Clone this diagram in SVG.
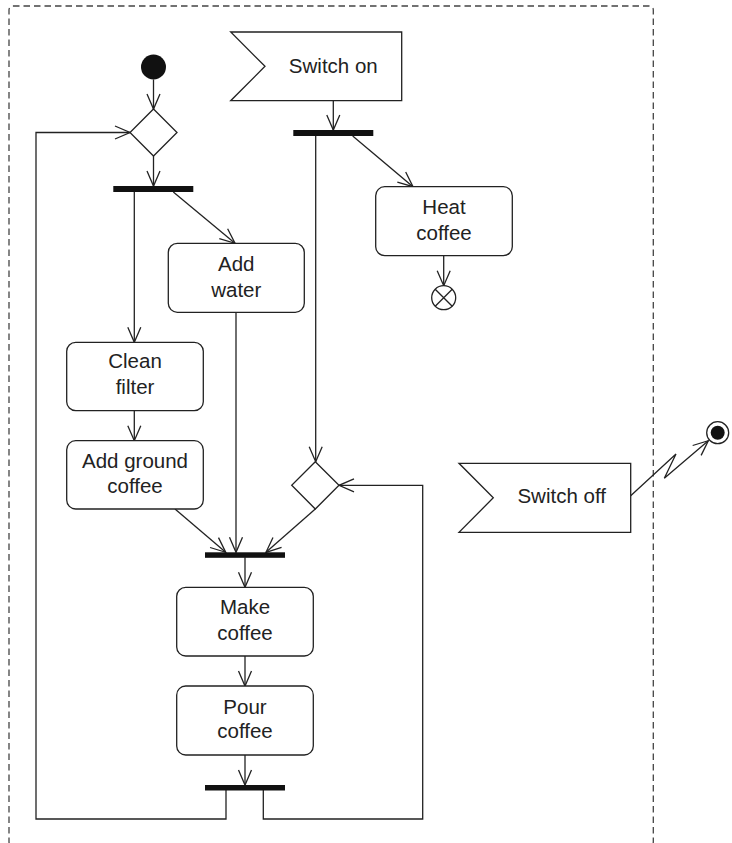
<svg xmlns="http://www.w3.org/2000/svg" width="732" height="843" viewBox="0 0 732 843">
<style>
.ln{fill:none;stroke:#222;stroke-width:1.3}
.box{fill:#fff;stroke:#222;stroke-width:1.3}
.bar{fill:#111;stroke:none}
.t{font-family:"Liberation Sans",Arial,sans-serif;font-size:20.5px;fill:#222;text-anchor:middle}
.frame{fill:none;stroke:#444;stroke-width:1.3;stroke-dasharray:6.5 4}
</style>
<defs>
<marker id="ah" markerUnits="userSpaceOnUse" markerWidth="20" markerHeight="20" viewBox="-18 -10 20 20" refX="0" refY="0" orient="auto">
<path d="M-15,-6.5 L0,0 L-15,6.5" fill="none" stroke="#222" stroke-width="1.3"/>
</marker>
</defs>
<rect class="frame" x="9" y="6" width="644.3" height="840" rx="4"/>

<g id="connectors">
<line class="ln" x1="153.5" y1="79.5" x2="153.5" y2="109" marker-end="url(#ah)"/>
<polyline class="ln" points="226,790 226,819 36,819 36,132.5 130,132.5" marker-end="url(#ah)"/>
<line class="ln" x1="153.5" y1="156" x2="153.5" y2="186" marker-end="url(#ah)"/>
<line class="ln" x1="134.3" y1="192" x2="134.3" y2="342.3" marker-end="url(#ah)"/>
<line class="ln" x1="173.3" y1="192" x2="235" y2="243.3" marker-end="url(#ah)"/>
<line class="ln" x1="134.3" y1="410.7" x2="134.3" y2="440.7" marker-end="url(#ah)"/>
<line class="ln" x1="175" y1="509" x2="225.7" y2="552.3" marker-end="url(#ah)"/>
<line class="ln" x1="236" y1="312.3" x2="236" y2="552.3" marker-end="url(#ah)"/>
<line class="ln" x1="333.3" y1="100.7" x2="333.3" y2="130" marker-end="url(#ah)"/>
<line class="ln" x1="315.7" y1="136" x2="315.7" y2="461.7" marker-end="url(#ah)"/>
<line class="ln" x1="352.7" y1="136" x2="413" y2="186.7" marker-end="url(#ah)"/>
<line class="ln" x1="443.7" y1="255.7" x2="443.7" y2="285.7" marker-end="url(#ah)"/>
<line class="ln" x1="315.3" y1="509" x2="266" y2="552.3" marker-end="url(#ah)"/>
<polyline class="ln" points="263.3,790 263.3,819 422.7,819 422.7,485.3 339,485.3" marker-end="url(#ah)"/>
<line class="ln" x1="245" y1="557.3" x2="245" y2="587.3" marker-end="url(#ah)"/>
<line class="ln" x1="245" y1="656" x2="245" y2="686" marker-end="url(#ah)"/>
<line class="ln" x1="245" y1="755" x2="245" y2="785" marker-end="url(#ah)"/>
<polyline class="ln" points="630.7,495.7 676,454 664.3,478.3 708.3,440.7" marker-end="url(#ah)"/>
</g>

<g id="initial"><circle cx="153.5" cy="67" r="12.5" fill="#111"/></g>
<g id="decision1"><polygon class="box" points="153.5,109 177,132.5 153.5,156 130,132.5"/></g>
<g id="fork1"><rect class="bar" x="113.3" y="186" width="80" height="6"/></g>

<g id="switchOn">
<polygon class="box" points="230.7,32 401.7,32 401.7,100.7 230.7,100.7 265,66.3"/>
<text class="t" x="333.3" y="72.7">Switch on</text>
</g>
<g id="fork2"><rect class="bar" x="293.3" y="130" width="80" height="6"/></g>

<g id="heatCoffee">
<rect class="box" x="375.7" y="186.7" width="136.6" height="69" rx="9"/>
<text class="t" x="444" y="214">Heat</text>
<text class="t" x="444" y="239.5">coffee</text>
</g>
<g id="flowFinal">
<circle class="box" cx="443.7" cy="297.7" r="12"/>
<path class="ln" d="M435.2,289.2 L452.2,306.2 M452.2,289.2 L435.2,306.2"/>
</g>

<g id="addWater">
<rect class="box" x="168.3" y="243.3" width="136" height="69" rx="9"/>
<text class="t" x="236.3" y="270.7">Add</text>
<text class="t" x="236.3" y="296.7">water</text>
</g>

<g id="cleanFilter">
<rect class="box" x="66.7" y="342.3" width="136.6" height="68.4" rx="9"/>
<text class="t" x="135" y="368.3">Clean</text>
<text class="t" x="135" y="394">filter</text>
</g>

<g id="addGround">
<rect class="box" x="66.7" y="440.7" width="136.6" height="68.3" rx="9"/>
<text class="t" x="135" y="467.7">Add ground</text>
<text class="t" x="135" y="493.3">coffee</text>
</g>

<g id="decision2"><polygon class="box" points="315.3,461.7 339,485.3 315.3,509 291.7,485.3"/></g>

<g id="switchOff">
<polygon class="box" points="459,463.3 630.7,463.3 630.7,532.3 459,532.3 493.3,497.8"/>
<text class="t" x="561.7" y="503.3">Switch off</text>
</g>

<g id="finalNode">
<circle class="box" cx="717.7" cy="432.7" r="11"/>
<circle cx="717.7" cy="432.7" r="7" fill="#111"/>
</g>

<g id="join1"><rect class="bar" x="205" y="552.3" width="80" height="5.5"/></g>

<g id="makeCoffee">
<rect class="box" x="176.7" y="587.3" width="136.6" height="68.7" rx="9"/>
<text class="t" x="245" y="614.3">Make</text>
<text class="t" x="245" y="640">coffee</text>
</g>

<g id="pourCoffee">
<rect class="box" x="176.7" y="686" width="136.6" height="69" rx="9"/>
<text class="t" x="245" y="714">Pour</text>
<text class="t" x="245" y="738.3">coffee</text>
</g>

<g id="join2"><rect class="bar" x="205" y="785" width="80" height="5.5"/></g>
</svg>
